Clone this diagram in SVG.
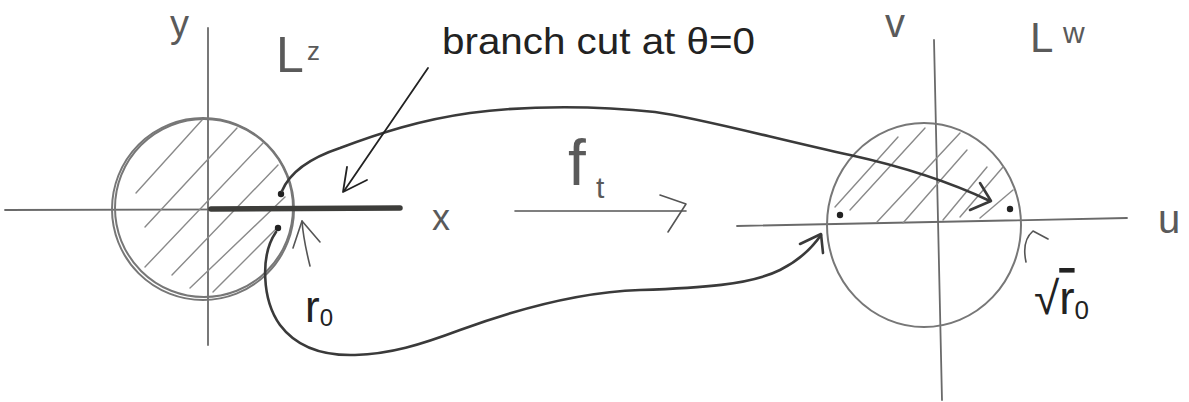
<svg xmlns="http://www.w3.org/2000/svg" width="1189" height="402" viewBox="0 0 1189 402">
<style>
.axis{stroke:#6a6a6a;stroke-width:1.8;fill:none;stroke-linecap:round}
.circ{stroke:#777;stroke-width:2;fill:none}
.hatch{stroke:#8a8a8a;stroke-width:1.4;fill:none;stroke-linecap:round}
.curve{stroke:#3a3a3a;stroke-width:2.6;fill:none;stroke-linecap:round;stroke-linejoin:round}
.thin{stroke:#222;stroke-width:1.8;fill:none;stroke-linecap:round;stroke-linejoin:round}
.pen{stroke:#555;stroke-width:1.6;fill:none;stroke-linecap:round;stroke-linejoin:round}
.lbl{font-family:"Liberation Sans","DejaVu Sans",sans-serif;fill:#5a5a5a}
.ink{font-family:"Liberation Sans","DejaVu Sans",sans-serif;fill:#222}
.dot{fill:#222}
</style>
<rect width="1189" height="402" fill="#ffffff"/>

<g id="z-plane">
  <line class="axis" x1="5" y1="210" x2="400" y2="209"/>
  <line class="axis" x1="208" y1="28" x2="208" y2="345"/>
  <circle class="circ" cx="203" cy="209" r="91"/>
  <circle class="circ" cx="204" cy="208" r="89" stroke="#aaa" stroke-width="1.2"/>
  <g id="z-hatch">
    <line class="hatch" x1="136" y1="193" x2="202" y2="120"/>
    <line class="hatch" x1="145" y1="227" x2="237" y2="128"/>
    <line class="hatch" x1="145" y1="267" x2="263" y2="143"/>
    <line class="hatch" x1="172" y1="275" x2="278" y2="165"/>
    <line class="hatch" x1="190" y1="288" x2="285" y2="197"/>
    <line class="hatch" x1="213" y1="292" x2="277" y2="228"/>
  </g>
  <line id="branch-cut" x1="211" y1="209" x2="400" y2="208" stroke="#3d3d3a" stroke-width="5.5" stroke-linecap="round"/>
  <circle class="dot" cx="281" cy="194" r="3.2"/>
  <circle class="dot" cx="278" cy="228" r="3.2"/>
  <text class="lbl" x="170" y="37" font-size="38">y</text>
  <text class="lbl" x="276" y="72" font-size="50">L</text>
  <text class="lbl" x="307" y="60" font-size="26">z</text>
  <text class="lbl" x="432" y="230" font-size="36">x</text>
</g>

<g id="w-plane">
  <line class="axis" x1="737" y1="226" x2="1127" y2="218"/>
  <line class="axis" x1="934" y1="40" x2="942" y2="400"/>
  <ellipse class="circ" cx="924" cy="225" rx="97" ry="102" stroke="#666"/>
  <g id="w-hatch">
    <line class="hatch" x1="835" y1="207" x2="898" y2="137"/>
    <line class="hatch" x1="850" y1="210" x2="925" y2="128"/>
    <line class="hatch" x1="877" y1="222" x2="960" y2="133"/>
    <line class="hatch" x1="903" y1="223" x2="967" y2="150"/>
    <line class="hatch" x1="943" y1="220" x2="987" y2="167"/>
    <line class="hatch" x1="960" y1="217" x2="1003" y2="167"/>
    <line class="hatch" x1="980" y1="218" x2="1013" y2="190"/>
  </g>
  <circle class="dot" cx="840" cy="215" r="3.2"/>
  <circle class="dot" cx="1010" cy="209" r="3.2"/>
  <text class="lbl" x="885" y="37" font-size="40">v</text>
  <text class="lbl" x="1030" y="52" font-size="42">L</text>
  <text class="lbl" x="1063" y="43" font-size="30">w</text>
  <text class="lbl" x="1158" y="233" font-size="40">u</text>
</g>

<g id="label-branch-cut">
  <text class="ink" x="442" y="54" font-size="36" textLength="313" lengthAdjust="spacingAndGlyphs">branch cut at θ=0</text>
</g>

<g id="label-r0">
  <text class="ink" x="305" y="322" font-size="44" fill="#444">r<tspan font-size="24" dy="4">0</tspan></text>
</g>

<g id="label-sqrt-r0">
  <text class="ink" x="1034" y="314" font-size="46" fill="#444">√<tspan style="text-decoration:overline">r</tspan><tspan font-size="26" dy="5">0</tspan></text>
</g>

<g id="label-ft">
  <text class="lbl" x="568" y="185" font-size="64">f</text>
  <text class="lbl" x="596" y="198" font-size="30">t</text>
</g>

<g id="connectors">
  <!-- f_t map arrow -->
  <path class="pen" d="M515,211 L686,211"/>
  <path class="pen" d="M660,195 L686,204 L668,232"/>
  <!-- upper curve: point above cut to right half -->
  <path class="curve" d="M282,191 C290,172 310,158 340,148 C380,133 420,120 470,113 C530,105 600,106 655,112 C700,118 780,140 850,155 C900,166 950,182 990,201"/>
  <path class="curve" d="M980,183 L991,201 L970,210"/>
  <!-- lower curve: point below cut to left point of w-circle -->
  <path class="curve" d="M276,232 C260,255 262,300 280,325 C295,345 320,356 355,355 C390,354 420,345 460,330 C520,308 580,292 640,290 C700,288 750,285 780,270 C800,260 812,248 821,235"/>
  <path class="curve" d="M800,244 L821,234 L823,253"/>
  <!-- branch cut pointer -->
  <path class="thin" d="M428,68 L344,191"/>
  <path class="thin" d="M347,167 L343,192 L367,180"/>
  <!-- r0 pointer -->
  <path class="pen" stroke="#444" stroke-width="2" d="M310,266 C306,250 303,235 302,221"/>
  <path class="pen" stroke="#444" stroke-width="2" d="M293,248 L302,221 L320,242"/>
  <!-- sqrt r0 pointer -->
  <path class="pen" d="M1026,262 C1023,248 1026,237 1033,231 L1048,239"/>
</g>
</svg>
